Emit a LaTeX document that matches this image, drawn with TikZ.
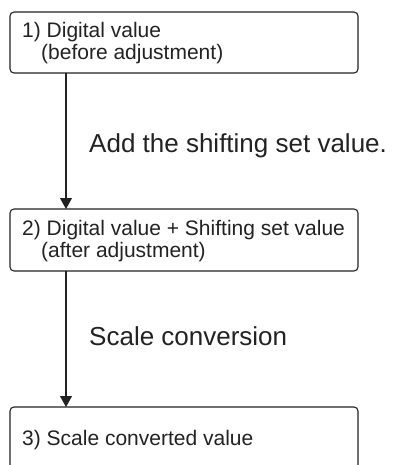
\documentclass[tikz,border=0pt]{standalone}
\usepackage{fontspec}
\setmainfont{Liberation Sans}
\usetikzlibrary{arrows.meta}
\definecolor{ink}{HTML}{222222}
\tikzset{
  box/.style={draw=ink, line width=1.1pt, rounded corners=4pt, minimum width=348pt,
    anchor=north west, inner sep=0pt, outer sep=0pt},
  txt/.style={anchor=base west, inner sep=0pt, text=ink, font=\fontsize{21}{26}\selectfont},
  lbl/.style={anchor=base west, inner sep=0pt, text=ink, font=\fontsize{26}{30}\selectfont},
  conn/.style={draw=ink, line width=1.1pt, -{Triangle[length=11pt,width=12pt]}}
}
\begin{document}
\begin{tikzpicture}[x=1pt,y=-1pt]
  \useasboundingbox (0,0) rectangle (392,465);
  \clip (0,0) rectangle (392,465);
  \node[box, minimum height=61pt] (b1) at (10,12) {};
  \node[box, minimum height=62pt] (b2) at (10,209) {};
  \node[box, minimum height=90pt] (b3) at (10,407) {};
  \node[txt] (t1a) at (22,38) {1) Digital value};
  \node[txt] (t1b) at (41,60) {(before adjustment)};
  \node[txt] (t2a) at (22,235) {2) Digital value + Shifting set value};
  \node[txt] (t2b) at (41,257) {(after adjustment)};
  \node[txt] (t3) at (22,445) {3) Scale converted value};
  \node[lbl] (l1) at (89,153) {Add the shifting set value.};
  \node[lbl] (l2) at (89,345) {Scale conversion};
  \draw[conn] ([xshift=56pt]b1.south west) -- ([xshift=56pt]b2.north west);
  \draw[conn] ([xshift=56pt]b2.south west) -- ([xshift=56pt]b3.north west);
\end{tikzpicture}
\end{document}
